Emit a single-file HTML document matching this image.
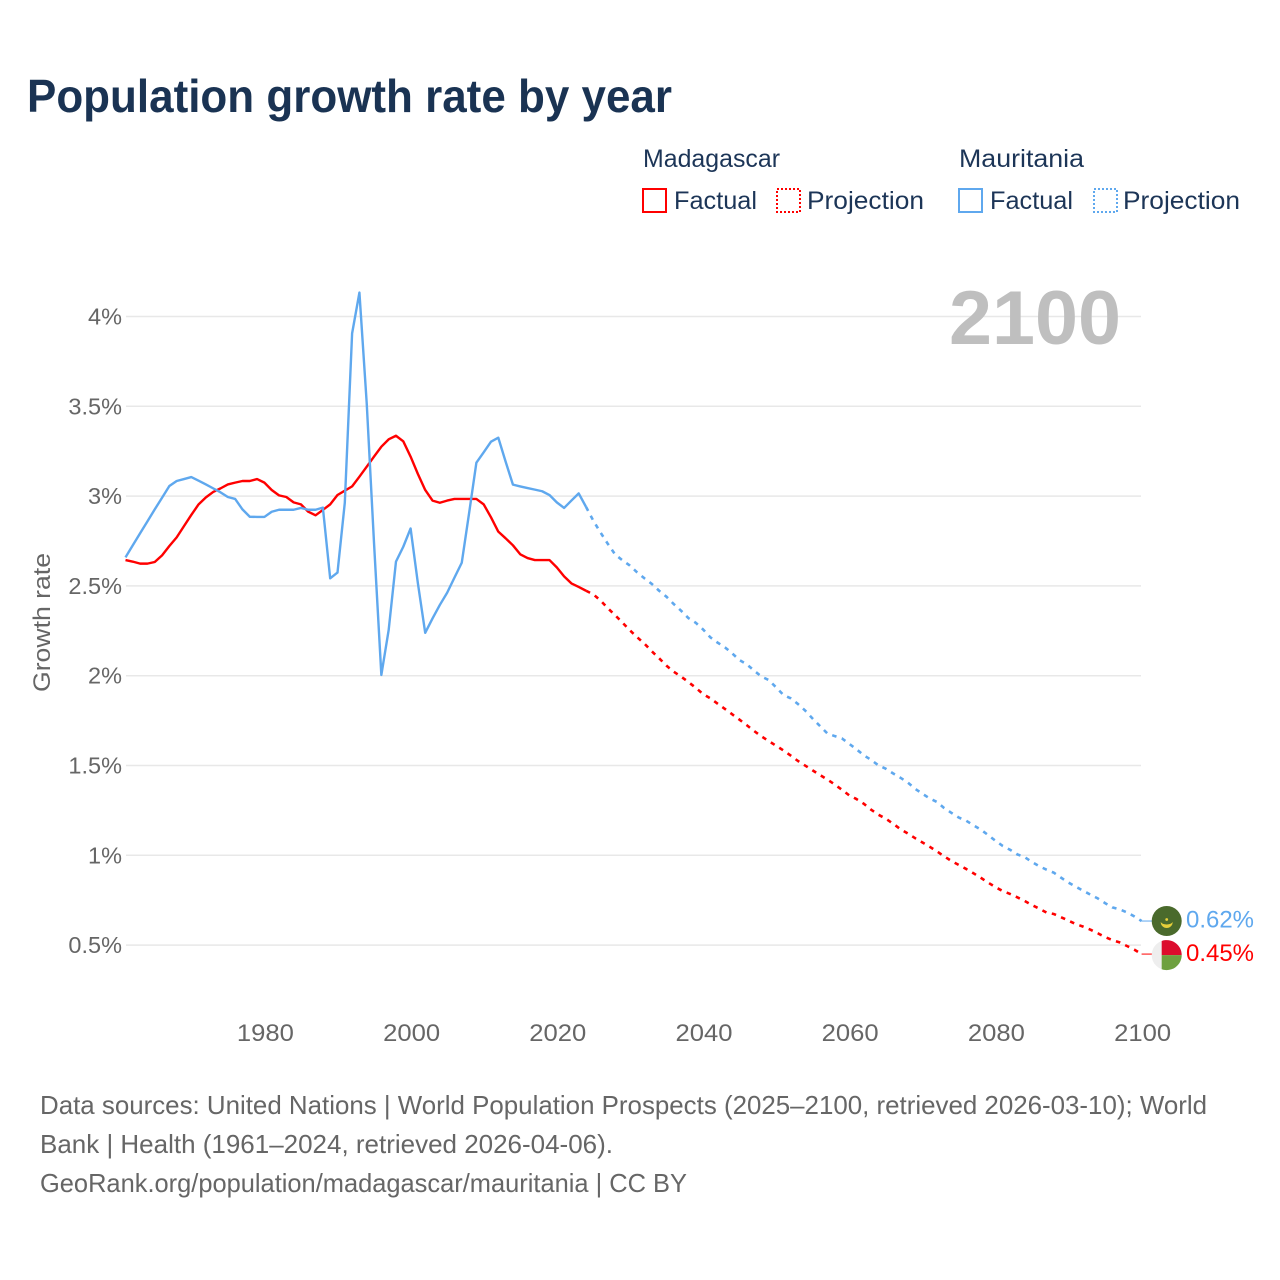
<!DOCTYPE html>
<html lang="en">
<head>
<meta charset="utf-8">
<title>Population growth rate by year</title>
<style>
html,body{margin:0;padding:0;background:#fff}
svg{display:block}
text{font-family:"Liberation Sans",sans-serif}
</style>
</head>
<body>
<svg id="chart" xmlns="http://www.w3.org/2000/svg" width="1280" height="1280" viewBox="0 0 1280 1280">
  <rect x="0" y="0" width="1280" height="1280" fill="#fff"/>
  <text x="27" y="112" font-size="46" font-weight="700" fill="#1a3353" textLength="645" lengthAdjust="spacingAndGlyphs">Population growth rate by year</text>

  <g fill="#1c3557" font-size="25">
    <text x="643" y="167" textLength="137" lengthAdjust="spacingAndGlyphs">Madagascar</text>
    <text x="959" y="167" textLength="125" lengthAdjust="spacingAndGlyphs">Mauritania</text>
    <rect x="643" y="189" width="23" height="23" fill="none" stroke="#ff0000" stroke-width="2"/>
    <text x="674" y="209" textLength="83" lengthAdjust="spacingAndGlyphs">Factual</text>
    <rect x="777" y="189" width="23" height="23" fill="none" stroke="#ff0000" stroke-width="2" stroke-dasharray="2 2"/>
    <text x="807" y="209" textLength="117" lengthAdjust="spacingAndGlyphs">Projection</text>
    <rect x="959" y="189" width="23" height="23" fill="none" stroke="#5fa8ee" stroke-width="2"/>
    <text x="990" y="209" textLength="83" lengthAdjust="spacingAndGlyphs">Factual</text>
    <rect x="1094" y="189" width="23" height="23" fill="none" stroke="#5fa8ee" stroke-width="2" stroke-dasharray="2 2"/>
    <text x="1123" y="209" textLength="117" lengthAdjust="spacingAndGlyphs">Projection</text>
  </g>

  <g id="grid"></g>
  <text x="1121" y="344" text-anchor="end" font-size="76" font-weight="700" fill="#bfbfbf" textLength="172" lengthAdjust="spacingAndGlyphs">2100</text>
  <g id="yticks" fill="#666" font-size="23.5"></g>
  <g id="xticks" fill="#666" font-size="24.5"></g>
  <text transform="translate(50,692) rotate(-90)" x="0" y="0" font-size="24.5" fill="#666" textLength="139" lengthAdjust="spacingAndGlyphs">Growth rate</text>
  <g id="series" fill="none"></g>

  <g id="flag-mauritania">
    <circle cx="0" cy="0" r="15" fill="#4a6a2c"/>
    <path d="M-6 1 A6 6 0 0 0 6 1 A6.5 4 0 0 1 -6 1Z" fill="#e6cf3a"/>
    <circle cx="0" cy="-1.5" r="1.4" fill="#e6cf3a"/>
  </g>
  <g id="flag-madagascar">
    <circle cx="0" cy="0" r="15" fill="#eeeeee"/>
    <path d="M-5 -14.14 A15 15 0 0 1 15 0 L-5 0Z" fill="#dc0d2d"/>
    <path d="M-5 14.14 A15 15 0 0 0 15 0 L-5 0Z" fill="#6ea03f"/>
  </g>
  <text id="label-mauritania" x="1186" font-size="24" fill="#5fa8ee" textLength="68" lengthAdjust="spacingAndGlyphs"></text>
  <text id="label-madagascar" x="1186" font-size="24" fill="#ff0000" textLength="68" lengthAdjust="spacingAndGlyphs"></text>

  <g fill="#666" font-size="26">
    <text x="40" y="1114" textLength="1167" lengthAdjust="spacingAndGlyphs">Data sources: United Nations | World Population Prospects (2025–2100, retrieved 2026-03-10); World</text>
    <text x="40" y="1153" textLength="573" lengthAdjust="spacingAndGlyphs">Bank | Health (1961–2024, retrieved 2026-04-06).</text>
    <text x="40" y="1192" textLength="647" lengthAdjust="spacingAndGlyphs">GeoRank.org/population/madagascar/mauritania | CC BY</text>
  </g>
</svg>
<script>
const yTickValues = [0.5, 1, 1.5, 2, 2.5, 3, 3.5, 4];
const yTickLabels = ["0.5%", "1%", "1.5%", "2%", "2.5%", "3%", "3.5%", "4%"];
const xTickYears = [1980, 2000, 2020, 2040, 2060, 2080, 2100];
const factualStartYear = 1961;
const projectionStartYear = 2024;
const madagascarFactual = [2.644,2.635,2.624,2.624,2.633,2.670,2.722,2.770,2.833,2.895,2.954,2.993,3.023,3.043,3.065,3.075,3.084,3.084,3.095,3.075,3.034,3.004,2.995,2.965,2.954,2.913,2.893,2.923,2.954,3.006,3.030,3.054,3.108,3.164,3.220,3.275,3.316,3.336,3.305,3.220,3.123,3.034,2.975,2.963,2.975,2.984,2.984,2.984,2.984,2.954,2.882,2.802,2.765,2.726,2.676,2.655,2.644,2.644,2.644,2.603,2.553,2.514,2.494,2.473];
const madagascarProjection = [2.473,2.453,2.418,2.375,2.336,2.295,2.253,2.214,2.178,2.136,2.097,2.056,2.022,1.995,1.965,1.933,1.898,1.874,1.844,1.815,1.785,1.755,1.724,1.692,1.662,1.636,1.610,1.584,1.555,1.525,1.499,1.473,1.447,1.422,1.395,1.365,1.334,1.313,1.287,1.254,1.226,1.204,1.176,1.146,1.122,1.096,1.072,1.048,1.022,0.994,0.968,0.946,0.924,0.900,0.875,0.848,0.823,0.801,0.785,0.766,0.746,0.723,0.703,0.681,0.673,0.655,0.636,0.617,0.603,0.586,0.566,0.545,0.528,0.515,0.495,0.475,0.450];
const mauritaniaFactual = [2.659,2.726,2.793,2.859,2.926,2.991,3.056,3.084,3.095,3.106,3.086,3.065,3.043,3.021,2.995,2.984,2.926,2.885,2.884,2.884,2.913,2.924,2.924,2.924,2.934,2.924,2.924,2.936,2.542,2.574,2.963,3.906,4.133,3.516,2.737,2.004,2.254,2.635,2.718,2.820,2.514,2.239,2.319,2.394,2.462,2.546,2.629,2.904,3.186,3.244,3.303,3.325,3.192,3.064,3.054,3.045,3.036,3.027,3.006,2.965,2.934,2.975,3.015,2.940];
const mauritaniaProjection = [2.940,2.863,2.796,2.733,2.674,2.642,2.613,2.575,2.542,2.511,2.473,2.440,2.399,2.362,2.321,2.295,2.258,2.214,2.184,2.158,2.124,2.087,2.063,2.028,1.995,1.976,1.935,1.893,1.874,1.842,1.805,1.761,1.720,1.679,1.664,1.651,1.621,1.590,1.557,1.531,1.501,1.482,1.456,1.432,1.406,1.371,1.343,1.317,1.297,1.263,1.236,1.210,1.193,1.167,1.143,1.113,1.081,1.052,1.031,1.005,0.990,0.963,0.939,0.920,0.903,0.875,0.848,0.825,0.803,0.781,0.760,0.734,0.710,0.699,0.682,0.660,0.634];
const endLabelMauritania = "0.62%";
const endLabelMadagascar = "0.45%";

const SVG_NS = "http://www.w3.org/2000/svg";
const MAD_COLOR = "#ff0000";
const MAU_COLOR = "#5fa8ee";
const LEADER_END_X = 1152;
const FLAG_CENTER_X = 1166.7;

function xScale(year) { return 125.5 + (year - 1961) * 7.31; }
function yScale(value) { return 316.5 + (4 - value) * 179.6; }

const gridGroup = document.getElementById("grid");
const yTickGroup = document.getElementById("yticks");
const xTickGroup = document.getElementById("xticks");
const seriesGroup = document.getElementById("series");

yTickValues.forEach(function (value, i) {
  const gridLine = document.createElementNS(SVG_NS, "line");
  
  
  gridLine.setAttribute("x1", 126);
  gridLine.setAttribute("x2", 1141);
  gridLine.setAttribute("y1", yScale(value));
  gridLine.setAttribute("y2", yScale(value));
  gridLine.setAttribute("stroke", "#e8e8e8");
  gridLine.setAttribute("stroke-width", 1.5);
  gridGroup.appendChild(gridLine);

  const tickText = document.createElementNS(SVG_NS, "text");
  
  
  tickText.setAttribute("x", 122);
  tickText.setAttribute("y", yScale(value) + 8);
  tickText.setAttribute("text-anchor", "end");
  tickText.textContent = yTickLabels[i];
  yTickGroup.appendChild(tickText);
});

xTickYears.forEach(function (year) {
  const tickText = document.createElementNS(SVG_NS, "text");
  
  
  tickText.setAttribute("x", xScale(year) + 1);
  tickText.setAttribute("y", 1041);
  tickText.setAttribute("text-anchor", "middle");
  tickText.setAttribute("textLength", 57);
  tickText.setAttribute("lengthAdjust", "spacingAndGlyphs");
  tickText.textContent = String(year);
  xTickGroup.appendChild(tickText);
});

function linePath(values, startYear) {
  return values.map(function (value, i) {
    return (i === 0 ? "M" : "L") + xScale(startYear + i).toFixed(2) + " " + yScale(value).toFixed(2);
  }).join(" ");
}

function drawLine(name, values, startYear, color, dashed) {
  const path = document.createElementNS(SVG_NS, "path");
  
  
  path.setAttribute("d", linePath(values, startYear));
  path.setAttribute("stroke", color);
  path.setAttribute("stroke-width", dashed ? 2.6 : 2.4);
  path.setAttribute("stroke-linejoin", "round");
  if (dashed) { path.setAttribute("stroke-dasharray", "4.5 5.5"); }
  seriesGroup.appendChild(path);
}

function drawLeader(name, endValue, color) {
  const leader = document.createElementNS(SVG_NS, "line");
  
  
  leader.setAttribute("x1", xScale(2100));
  leader.setAttribute("x2", LEADER_END_X);
  leader.setAttribute("y1", yScale(endValue));
  leader.setAttribute("y2", yScale(endValue));
  leader.setAttribute("stroke", color);
  leader.setAttribute("stroke-width", 1);
  seriesGroup.appendChild(leader);
}

drawLine("line-madagascar-factual", madagascarFactual, factualStartYear, MAD_COLOR, false);
drawLine("line-madagascar-projection", madagascarProjection, projectionStartYear, MAD_COLOR, true);
drawLine("line-mauritania-factual", mauritaniaFactual, factualStartYear, MAU_COLOR, false);
drawLine("line-mauritania-projection", mauritaniaProjection, projectionStartYear, MAU_COLOR, true);

const madEnd = madagascarProjection[madagascarProjection.length - 1];
const mauEnd = mauritaniaProjection[mauritaniaProjection.length - 1];
drawLeader("leader-madagascar", madEnd, MAD_COLOR);
drawLeader("leader-mauritania", mauEnd, MAU_COLOR);

document.getElementById("flag-mauritania").setAttribute("transform", "translate(" + FLAG_CENTER_X + "," + yScale(mauEnd) + ")");
document.getElementById("flag-madagascar").setAttribute("transform", "translate(" + FLAG_CENTER_X + "," + (yScale(madEnd) + 1) + ")");

const labelMau = document.getElementById("label-mauritania");
labelMau.setAttribute("y", yScale(mauEnd) + 6.5);
labelMau.textContent = endLabelMauritania;
const labelMad = document.getElementById("label-madagascar");
labelMad.setAttribute("y", yScale(madEnd) + 7);
labelMad.textContent = endLabelMadagascar;
</script>
</body>
</html>
